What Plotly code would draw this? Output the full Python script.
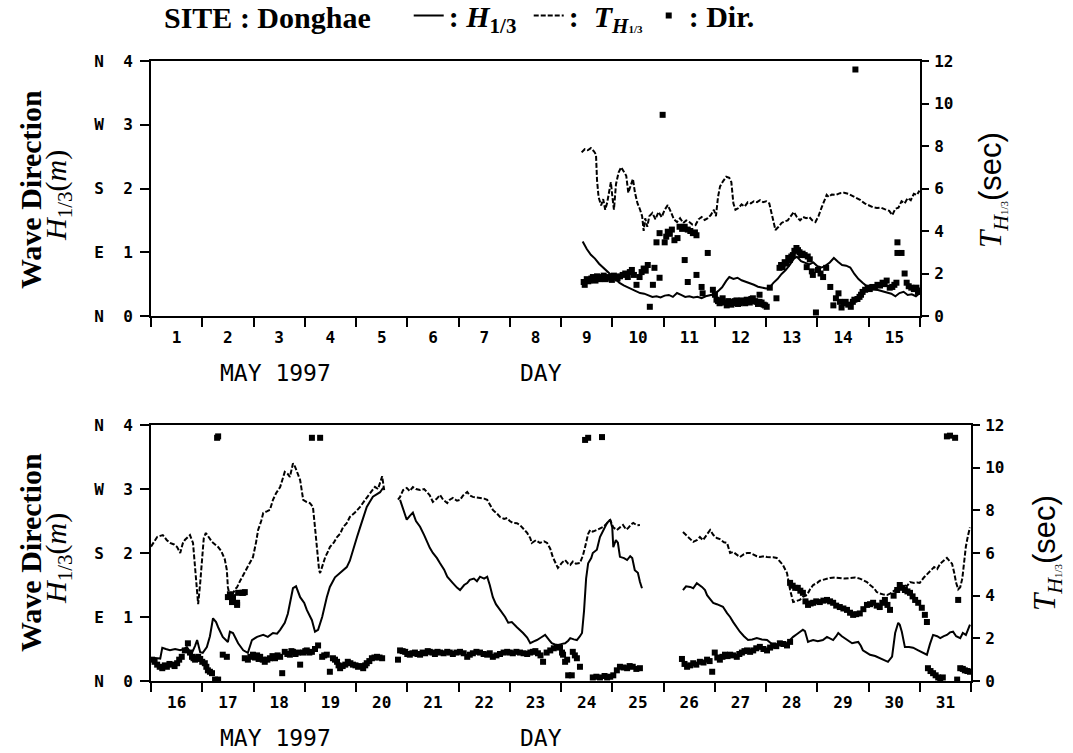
import plotly.graph_objects as go

# Wave record at Donghae, May 1997.
# Time is expressed as day-of-month with fractional part (9.50 = May 9, 12:00).
# H13: significant wave height (m); T13: significant wave period (s); DIR: direction (deg).

# ---------------- May 1-15 (record begins on the 9th) ----------------
TOP_H13 = [
    (9.42, 1.17), (9.50, 1.05), (9.58, 0.96), (9.66, 0.90), (9.74, 0.82), (9.82, 0.76),
    (9.90, 0.70), (9.98, 0.63), (10.06, 0.58), (10.14, 0.52), (10.22, 0.48), (10.30, 0.45),
    (10.38, 0.42), (10.46, 0.38), (10.54, 0.36), (10.62, 0.35), (10.70, 0.33), (10.78, 0.30),
    (10.86, 0.31), (10.94, 0.29), (11.02, 0.32), (11.10, 0.33), (11.18, 0.30), (11.26, 0.36),
    (11.34, 0.33), (11.42, 0.30), (11.50, 0.31), (11.58, 0.29), (11.66, 0.30), (11.74, 0.28),
    (11.82, 0.31), (11.90, 0.32), (11.98, 0.34), (12.06, 0.39), (12.14, 0.45), (12.22, 0.55),
    (12.28, 0.61), (12.36, 0.58), (12.44, 0.60), (12.52, 0.56), (12.60, 0.54), (12.68, 0.51),
    (12.76, 0.49), (12.84, 0.46), (12.92, 0.45), (13.00, 0.43), (13.06, 0.44), (13.14, 0.52),
    (13.22, 0.58), (13.30, 0.66), (13.38, 0.72), (13.46, 0.80), (13.54, 0.90), (13.60, 0.93),
    (13.68, 0.86), (13.76, 0.83), (13.84, 0.81), (13.92, 0.84), (14.00, 0.78), (14.08, 0.76),
    (14.16, 0.79), (14.24, 0.84), (14.32, 0.91), (14.40, 0.85), (14.48, 0.80), (14.56, 0.79),
    (14.64, 0.76), (14.72, 0.66), (14.80, 0.58), (14.88, 0.52), (14.96, 0.47), (15.04, 0.44),
    (15.12, 0.42), (15.20, 0.41), (15.28, 0.38), (15.36, 0.37), (15.44, 0.35), (15.52, 0.31),
    (15.60, 0.36), (15.68, 0.38), (15.76, 0.33), (15.84, 0.34), (15.92, 0.31), (15.98, 0.35),
]

TOP_T13 = [
    (9.40, 7.70), (9.46, 7.85), (9.52, 7.80), (9.58, 7.90), (9.64, 7.75), (9.68, 7.60),
    (9.70, 6.40), (9.73, 5.60), (9.78, 5.20), (9.82, 5.50), (9.86, 5.00), (9.90, 5.35),
    (9.94, 5.90), (9.97, 6.30), (10.00, 5.60), (10.03, 5.00), (10.07, 6.20), (10.12, 6.75),
    (10.17, 7.00), (10.22, 6.80), (10.27, 6.60), (10.31, 5.80), (10.36, 6.20), (10.40, 6.45),
    (10.44, 5.80), (10.49, 5.30), (10.54, 5.00), (10.58, 4.70), (10.61, 4.00), (10.64, 4.60),
    (10.68, 4.20), (10.72, 4.70), (10.78, 4.85), (10.84, 4.55), (10.90, 4.90), (10.96, 4.65),
    (11.02, 5.00), (11.08, 5.22), (11.14, 4.90), (11.20, 4.55), (11.26, 4.42), (11.32, 4.60),
    (11.38, 4.38), (11.44, 4.50), (11.50, 4.42), (11.56, 4.30), (11.62, 4.28), (11.68, 4.55),
    (11.74, 4.66), (11.80, 4.52), (11.86, 4.60), (11.92, 4.75), (11.98, 5.00), (12.02, 4.70),
    (12.06, 5.60), (12.10, 6.10), (12.16, 6.35), (12.22, 6.55), (12.28, 6.50), (12.32, 6.30),
    (12.36, 5.30), (12.40, 5.00), (12.46, 5.08), (12.52, 5.25), (12.58, 5.15), (12.64, 5.35),
    (12.70, 5.30), (12.76, 5.40), (12.82, 5.36), (12.88, 5.45), (12.94, 5.36), (13.00, 5.40),
    (13.06, 5.30), (13.12, 4.60), (13.18, 4.05), (13.24, 4.20), (13.30, 4.38), (13.36, 4.45),
    (13.42, 4.50), (13.48, 4.70), (13.54, 4.90), (13.60, 4.65), (13.66, 4.50), (13.72, 4.66),
    (13.78, 4.60), (13.84, 4.66), (13.90, 4.50), (13.96, 4.42), (14.02, 4.70), (14.08, 5.10),
    (14.14, 5.45), (14.18, 5.70), (14.22, 5.60), (14.28, 5.72), (14.36, 5.70), (14.44, 5.78),
    (14.52, 5.80), (14.60, 5.75), (14.68, 5.65), (14.76, 5.55), (14.84, 5.45), (14.92, 5.30),
    (15.00, 5.20), (15.08, 5.12), (15.16, 5.08), (15.24, 5.10), (15.32, 5.02), (15.40, 4.95),
    (15.46, 4.75), (15.52, 5.05), (15.58, 5.10), (15.64, 5.40), (15.70, 5.30), (15.76, 5.55),
    (15.82, 5.45), (15.88, 5.75), (15.94, 5.70), (15.99, 5.90),
]

TOP_DIR = [
    (9.44, 48), (9.46, 44), (9.50, 52), (9.53, 49), (9.56, 50), (9.59, 53), (9.62, 55),
    (9.65, 51), (9.67, 50), (9.70, 56), (9.73, 54), (9.76, 52), (9.79, 55), (9.83, 57),
    (9.87, 52), (9.91, 55), (9.95, 54), (9.99, 51), (10.03, 57), (10.06, 55), (10.10, 53),
    (10.15, 56), (10.20, 58), (10.25, 60), (10.30, 55), (10.34, 62), (10.38, 65), (10.42, 58),
    (10.47, 44), (10.53, 55), (10.57, 62), (10.61, 67), (10.65, 64), (10.69, 72), (10.73, 13),
    (10.79, 44), (10.82, 68), (10.86, 104), (10.92, 54), (10.92, 117), (10.98, 284),
    (11.02, 104), (11.05, 112), (11.08, 119), (11.12, 116), (11.16, 122), (11.21, 107),
    (11.27, 110), (11.31, 126), (11.36, 123), (11.41, 126), (11.41, 79), (11.47, 122),
    (11.47, 48), (11.52, 120), (11.57, 117), (11.61, 118), (11.64, 114), (11.64, 58),
    (11.74, 41), (11.76, 32), (11.86, 89), (11.96, 37), (12.00, 30), (12.03, 23), (12.06, 21),
    (12.09, 18), (12.12, 22), (12.15, 25), (12.19, 19), (12.23, 15), (12.26, 21), (12.29, 20),
    (12.32, 16), (12.35, 18), (12.39, 21), (12.42, 22), (12.45, 17), (12.48, 18), (12.52, 22),
    (12.56, 20), (12.59, 18), (12.62, 23), (12.65, 21), (12.68, 19), (12.71, 24), (12.74, 25),
    (12.78, 21), (12.81, 20), (12.84, 17), (12.87, 20), (12.87, 30), (12.91, 19), (12.95, 16),
    (12.98, 15), (13.01, 13), (13.07, 40), (13.20, 25), (13.26, 68), (13.29, 72), (13.32, 69),
    (13.36, 76), (13.40, 74), (13.43, 82), (13.46, 79), (13.49, 84), (13.52, 86), (13.55, 92),
    (13.59, 96), (13.62, 93), (13.65, 90), (13.68, 86), (13.71, 88), (13.75, 86), (13.79, 69),
    (13.81, 84), (13.85, 80), (13.89, 63), (13.91, 58), (13.97, 5), (14.01, 65), (14.06, 60),
    (14.11, 55), (14.17, 68), (14.25, 41), (14.31, 15), (14.36, 25), (14.41, 32), (14.44, 20),
    (14.47, 12), (14.51, 18), (14.55, 20), (14.60, 16), (14.65, 13), (14.69, 20), (14.72, 23),
    (14.74, 348), (14.78, 24), (14.82, 27), (14.85, 30), (14.88, 34), (14.93, 37), (14.98, 40),
    (15.02, 38), (15.07, 41), (15.12, 40), (15.17, 44), (15.22, 43), (15.27, 47), (15.31, 45),
    (15.35, 50), (15.41, 40), (15.46, 41), (15.50, 44), (15.54, 47), (15.56, 104), (15.56, 89),
    (15.64, 89), (15.70, 60), (15.74, 47), (15.78, 42), (15.83, 40), (15.88, 38), (15.93, 40),
    (15.96, 34), (15.99, 36),
]

# ---------------- May 16-31 ----------------
BOT_H13 = [
    (16.00, 0.33), (16.08, 0.36), (16.18, 0.35), (16.22, 0.52), (16.29, 0.50), (16.37, 0.48),
    (16.47, 0.50), (16.57, 0.48), (16.64, 0.50), (16.70, 0.53), (16.76, 0.46), (16.80, 0.44),
    (16.86, 0.55), (16.90, 0.64), (16.96, 0.45), (17.01, 0.44), (17.09, 0.53), (17.15, 0.70),
    (17.21, 0.98), (17.27, 0.92), (17.31, 0.84), (17.40, 0.69), (17.50, 0.61), (17.54, 0.77),
    (17.60, 0.75), (17.66, 0.66), (17.70, 0.59), (17.80, 0.48), (17.89, 0.44), (17.97, 0.64),
    (18.07, 0.69), (18.19, 0.72), (18.28, 0.69), (18.38, 0.75), (18.46, 0.74), (18.52, 0.80),
    (18.61, 0.91), (18.67, 1.05), (18.71, 1.22), (18.77, 1.45), (18.83, 1.48), (18.91, 1.31),
    (18.99, 1.22), (19.04, 1.11), (19.14, 0.95), (19.20, 0.77), (19.26, 0.80), (19.34, 1.00),
    (19.43, 1.31), (19.49, 1.47), (19.59, 1.62), (19.69, 1.69), (19.77, 1.75), (19.82, 1.78),
    (19.88, 1.88), (19.94, 2.05), (20.02, 2.25), (20.08, 2.40), (20.14, 2.56), (20.21, 2.72),
    (20.27, 2.80), (20.33, 2.88), (20.41, 2.92), (20.47, 2.95), (20.53, 3.02),
    (20.86, 2.83), (20.94, 2.62), (20.99, 2.52), (21.05, 2.58), (21.11, 2.63), (21.17, 2.50),
    (21.25, 2.41), (21.33, 2.28), (21.39, 2.16), (21.44, 2.08), (21.50, 2.00), (21.58, 1.92),
    (21.64, 1.84), (21.72, 1.74), (21.78, 1.63), (21.83, 1.58), (21.89, 1.53), (21.97, 1.46),
    (22.03, 1.42), (22.11, 1.50), (22.17, 1.53), (22.22, 1.58), (22.30, 1.60), (22.36, 1.56),
    (22.42, 1.63), (22.50, 1.60), (22.56, 1.63), (22.61, 1.50), (22.67, 1.31), (22.73, 1.20),
    (22.81, 1.11), (22.91, 1.00), (22.97, 0.91), (23.04, 0.92), (23.14, 0.84), (23.20, 0.80),
    (23.26, 0.75), (23.34, 0.68), (23.40, 0.59), (23.47, 0.62), (23.53, 0.64), (23.61, 0.68),
    (23.69, 0.72), (23.77, 0.64), (23.82, 0.59), (23.88, 0.57), (23.94, 0.56), (24.02, 0.58),
    (24.08, 0.59), (24.14, 0.63), (24.18, 0.67), (24.25, 0.65), (24.31, 0.64), (24.37, 0.70),
    (24.41, 0.75), (24.45, 1.10), (24.49, 1.60), (24.53, 1.84), (24.59, 1.92), (24.62, 2.00),
    (24.70, 2.05), (24.76, 2.25), (24.84, 2.38), (24.90, 2.47), (24.96, 2.52), (25.00, 2.40),
    (25.02, 2.09), (25.07, 2.20), (25.11, 2.16), (25.15, 1.94), (25.23, 1.92), (25.29, 1.89),
    (25.35, 1.95), (25.39, 1.92), (25.44, 1.73), (25.50, 1.69), (25.54, 1.55), (25.58, 1.45),
    (26.38, 1.42), (26.44, 1.48), (26.52, 1.47), (26.58, 1.45), (26.65, 1.53), (26.71, 1.50),
    (26.75, 1.47), (26.81, 1.42), (26.85, 1.34), (26.91, 1.28), (26.97, 1.22), (27.04, 1.20),
    (27.10, 1.18), (27.16, 1.16), (27.24, 1.06), (27.30, 1.00), (27.36, 0.92), (27.43, 0.84),
    (27.49, 0.77), (27.57, 0.70), (27.65, 0.64), (27.73, 0.65), (27.82, 0.67), (27.92, 0.65),
    (28.02, 0.64), (28.08, 0.60), (28.14, 0.56), (28.21, 0.57), (28.27, 0.56), (28.35, 0.58),
    (28.41, 0.59), (28.47, 0.64), (28.53, 0.69), (28.60, 0.73), (28.66, 0.77), (28.72, 0.80),
    (28.76, 0.78), (28.82, 0.61), (28.88, 0.63), (28.92, 0.64), (29.01, 0.62), (29.11, 0.64),
    (29.19, 0.69), (29.25, 0.66), (29.31, 0.64), (29.37, 0.70), (29.41, 0.75), (29.48, 0.70),
    (29.54, 0.67), (29.62, 0.63), (29.68, 0.59), (29.74, 0.60), (29.80, 0.61), (29.85, 0.55),
    (29.89, 0.48), (29.97, 0.44), (30.03, 0.41), (30.13, 0.39), (30.22, 0.36), (30.30, 0.33),
    (30.38, 0.30), (30.46, 0.38), (30.52, 0.75), (30.58, 0.91), (30.61, 0.88), (30.65, 0.77),
    (30.71, 0.53), (30.79, 0.53), (30.87, 0.52), (30.97, 0.48), (31.04, 0.45), (31.10, 0.43),
    (31.14, 0.41), (31.20, 0.58), (31.26, 0.72), (31.34, 0.70), (31.40, 0.67), (31.47, 0.70),
    (31.53, 0.72), (31.59, 0.76), (31.65, 0.77), (31.71, 0.70), (31.79, 0.67), (31.84, 0.75),
    (31.90, 0.72), (31.94, 0.80), (31.98, 0.88),
]

BOT_T13 = [
    (16.00, 6.30), (16.04, 6.47), (16.12, 6.75), (16.18, 6.80), (16.23, 6.84), (16.31, 6.60),
    (16.37, 6.47), (16.45, 6.40), (16.51, 6.28), (16.57, 6.00), (16.62, 6.45), (16.66, 6.61),
    (16.72, 6.75), (16.76, 6.84), (16.82, 6.47), (16.86, 5.40), (16.90, 3.94), (16.92, 3.60),
    (16.96, 4.60), (17.00, 5.81), (17.03, 6.70), (17.07, 6.94), (17.13, 6.70), (17.19, 6.52),
    (17.25, 6.40), (17.31, 6.28), (17.37, 6.10), (17.40, 5.91), (17.44, 5.70), (17.48, 5.20),
    (17.50, 4.40), (17.54, 3.94), (17.60, 4.10), (17.64, 4.30), (17.68, 4.40), (17.74, 4.70),
    (17.78, 4.88), (17.83, 5.10), (17.87, 5.34), (17.93, 5.55), (17.99, 5.81), (18.05, 6.50),
    (18.09, 7.08), (18.15, 7.50), (18.19, 7.88), (18.26, 7.95), (18.32, 8.02), (18.38, 8.49),
    (18.44, 8.80), (18.52, 9.09), (18.58, 9.50), (18.61, 9.80), (18.67, 9.70), (18.71, 9.56),
    (18.77, 10.20), (18.81, 10.05), (18.85, 9.80), (18.91, 9.42), (18.97, 8.49), (19.03, 8.40),
    (19.10, 8.34), (19.16, 8.16), (19.20, 7.20), (19.24, 6.00), (19.28, 5.20), (19.30, 5.06),
    (19.36, 5.50), (19.40, 5.81), (19.46, 6.10), (19.49, 6.28), (19.57, 6.50), (19.63, 6.75),
    (19.69, 6.90), (19.75, 7.22), (19.82, 7.40), (19.88, 7.69), (19.98, 7.90), (20.08, 8.16),
    (20.18, 8.50), (20.27, 8.81), (20.37, 9.10), (20.43, 9.00), (20.47, 9.33), (20.51, 9.60),
    (20.55, 8.95),
    (20.82, 8.50), (20.86, 8.63), (20.92, 8.95), (20.99, 9.05), (21.05, 8.90), (21.11, 9.09),
    (21.17, 9.00), (21.25, 8.95), (21.33, 9.00), (21.39, 8.86), (21.44, 8.70), (21.50, 8.39),
    (21.58, 8.55), (21.64, 8.72), (21.70, 8.50), (21.78, 8.34), (21.83, 8.50), (21.89, 8.58),
    (21.97, 8.45), (22.03, 8.49), (22.09, 8.70), (22.17, 8.86), (22.22, 8.70), (22.28, 8.63),
    (22.36, 8.60), (22.42, 8.58), (22.50, 8.55), (22.56, 8.49), (22.61, 8.30), (22.67, 8.02),
    (22.75, 7.85), (22.81, 7.69), (22.89, 7.60), (22.95, 7.64), (23.00, 7.50), (23.06, 7.41),
    (23.14, 7.40), (23.20, 7.31), (23.28, 7.10), (23.34, 6.94), (23.40, 6.70), (23.43, 6.47),
    (23.51, 6.60), (23.59, 6.47), (23.67, 6.55), (23.73, 6.47), (23.79, 6.20), (23.84, 5.81),
    (23.90, 5.50), (23.94, 5.30), (24.02, 5.55), (24.08, 5.67), (24.14, 5.50), (24.18, 5.44),
    (24.23, 5.60), (24.29, 5.50), (24.37, 5.53), (24.43, 5.90), (24.47, 6.28), (24.53, 6.90),
    (24.57, 7.08), (24.62, 7.00), (24.70, 7.08), (24.76, 7.15), (24.82, 7.22), (24.90, 7.40),
    (24.96, 7.55), (25.02, 7.20), (25.09, 7.08), (25.15, 7.20), (25.21, 7.31), (25.27, 7.10),
    (25.31, 7.17), (25.37, 7.35), (25.41, 7.41), (25.48, 7.30), (25.54, 7.31),
    (26.38, 6.98), (26.46, 6.80), (26.52, 6.70), (26.58, 6.52), (26.65, 6.60), (26.71, 6.75),
    (26.77, 6.60), (26.85, 6.90), (26.91, 7.08), (26.97, 6.85), (27.04, 6.70), (27.10, 6.65),
    (27.18, 6.50), (27.24, 6.47), (27.30, 6.00), (27.36, 6.05), (27.43, 5.90), (27.49, 5.81),
    (27.57, 5.95), (27.63, 6.00), (27.69, 6.00), (27.77, 5.90), (27.82, 5.85), (27.88, 5.81),
    (27.96, 5.85), (28.02, 5.81), (28.08, 5.81), (28.14, 5.80), (28.21, 5.77), (28.27, 5.60),
    (28.33, 5.44), (28.41, 5.06), (28.47, 4.27), (28.53, 3.70), (28.59, 3.75), (28.66, 3.80),
    (28.72, 3.95), (28.80, 4.03), (28.86, 4.30), (28.92, 4.50), (29.00, 4.60), (29.05, 4.70),
    (29.11, 4.74), (29.19, 4.80), (29.25, 4.83), (29.35, 4.85), (29.44, 4.83), (29.54, 4.80),
    (29.64, 4.83), (29.74, 4.85), (29.83, 4.80), (29.91, 4.70), (29.97, 4.64), (30.03, 4.50),
    (30.11, 4.35), (30.16, 4.17), (30.22, 4.10), (30.30, 4.05), (30.36, 4.03), (30.42, 4.10),
    (30.48, 4.20), (30.56, 4.30), (30.61, 4.41), (30.69, 4.50), (30.75, 4.45), (30.81, 4.64),
    (30.89, 4.60), (30.95, 4.62), (31.00, 4.60), (31.08, 4.85), (31.16, 5.06), (31.22, 5.20),
    (31.28, 5.34), (31.34, 5.25), (31.40, 5.50), (31.47, 5.65), (31.53, 5.77), (31.59, 5.60),
    (31.63, 5.50), (31.67, 5.10), (31.71, 4.60), (31.75, 4.30), (31.79, 4.40), (31.83, 4.80),
    (31.87, 5.60), (31.90, 6.30), (31.94, 6.80), (31.98, 7.20),
]

BOT_DIR = [
    (16.02, 30), (16.07, 27), (16.12, 23), (16.17, 20), (16.22, 18), (16.27, 22), (16.31, 20),
    (16.36, 24), (16.41, 23), (16.46, 21), (16.51, 25), (16.55, 30), (16.60, 34), (16.66, 43),
    (16.72, 53), (16.76, 40), (16.80, 34), (16.83, 32), (16.86, 30), (16.92, 34), (16.96, 31),
    (17.00, 27), (17.05, 25), (17.08, 20), (17.11, 15), (17.15, 13), (17.19, 11), (17.25, 2),
    (17.31, 2), (17.29, 342), (17.31, 344), (17.40, 37), (17.48, 34), (17.50, 118), (17.54, 122),
    (17.58, 111), (17.60, 118), (17.68, 107), (17.68, 110), (17.70, 124), (17.78, 124),
    (17.80, 124), (17.83, 125), (17.83, 32), (17.89, 30), (17.94, 34), (17.99, 37), (18.03, 33),
    (18.07, 36), (18.10, 31), (18.13, 34), (18.18, 30), (18.22, 27), (18.27, 30), (18.32, 32),
    (18.37, 35), (18.42, 32), (18.47, 36), (18.52, 34), (18.56, 11), (18.61, 41), (18.66, 38),
    (18.71, 37), (18.74, 42), (18.77, 41), (18.82, 38), (18.87, 40), (18.91, 23), (18.97, 40),
    (19.01, 42), (19.04, 43), (19.09, 40), (19.14, 41), (19.14, 342), (19.20, 45), (19.26, 50),
    (19.30, 342), (19.34, 34), (19.38, 36), (19.43, 37), (19.49, 13), (19.55, 32), (19.59, 30),
    (19.63, 27), (19.66, 22), (19.69, 18), (19.74, 21), (19.79, 23), (19.84, 27), (19.89, 25),
    (19.94, 23), (19.99, 22), (20.04, 20), (20.09, 21), (20.14, 18), (20.18, 22), (20.21, 25),
    (20.26, 28), (20.31, 32), (20.36, 33), (20.41, 34), (20.46, 33), (20.51, 32),
    (20.82, 30), (20.86, 43), (20.91, 42), (20.96, 41), (21.00, 38), (21.05, 37), (21.10, 39),
    (21.15, 40), (21.20, 38), (21.25, 37), (21.30, 40), (21.35, 39), (21.40, 42), (21.44, 41),
    (21.49, 40), (21.54, 38), (21.59, 41), (21.64, 40), (21.71, 39), (21.78, 41), (21.83, 40),
    (21.89, 38), (21.96, 40), (22.03, 41), (22.10, 39), (22.17, 34), (22.22, 37), (22.28, 39),
    (22.35, 41), (22.42, 40), (22.49, 38), (22.56, 37), (22.61, 39), (22.67, 34), (22.74, 36),
    (22.81, 38), (22.88, 40), (22.95, 41), (23.00, 40), (23.06, 39), (23.13, 41), (23.20, 40),
    (23.27, 39), (23.34, 38), (23.40, 40), (23.45, 41), (23.50, 42), (23.55, 39), (23.60, 36),
    (23.65, 27), (23.72, 40), (23.79, 43), (23.86, 46), (23.92, 48), (23.98, 47), (24.02, 40),
    (24.04, 37), (24.08, 27), (24.12, 30), (24.14, 8), (24.21, 8), (24.23, 41), (24.27, 36),
    (24.31, 32), (24.37, 20), (24.47, 339), (24.53, 342), (24.62, 5), (24.69, 6), (24.76, 5),
    (24.80, 343), (24.85, 7), (24.90, 5), (24.96, 6), (25.02, 8), (25.09, 15), (25.15, 20),
    (25.22, 19), (25.29, 18), (25.34, 21), (25.40, 20), (25.47, 17), (25.54, 18),
    (26.36, 31), (26.41, 24), (26.46, 20), (26.52, 22), (26.58, 25), (26.64, 23), (26.71, 27),
    (26.78, 26), (26.85, 30), (26.90, 28), (26.95, 13), (27.00, 40), (27.05, 33), (27.10, 30),
    (27.15, 34), (27.20, 37), (27.25, 35), (27.30, 37), (27.36, 36), (27.43, 34), (27.48, 38),
    (27.53, 40), (27.58, 42), (27.63, 43), (27.69, 41), (27.75, 43), (27.81, 46), (27.88, 48),
    (27.95, 45), (28.02, 43), (28.08, 47), (28.14, 50), (28.20, 49), (28.27, 53), (28.34, 52),
    (28.41, 50), (28.47, 55), (28.47, 138), (28.52, 134), (28.57, 131), (28.62, 131),
    (28.67, 127), (28.72, 124), (28.77, 112), (28.82, 107), (28.87, 109), (28.92, 110),
    (28.98, 112), (29.05, 111), (29.12, 113), (29.19, 114), (29.25, 112), (29.31, 110),
    (29.37, 106), (29.44, 104), (29.51, 102), (29.58, 100), (29.64, 96), (29.70, 93),
    (29.76, 94), (29.83, 95), (29.90, 101), (29.97, 107), (30.03, 108), (30.09, 110),
    (30.16, 106), (30.22, 104), (30.27, 110), (30.32, 114), (30.37, 107), (30.42, 100),
    (30.49, 120), (30.56, 128), (30.61, 135), (30.66, 131), (30.71, 128), (30.76, 126),
    (30.81, 124), (30.86, 119), (30.91, 114), (30.97, 110), (31.04, 103), (31.10, 93),
    (31.14, 83), (31.16, 18), (31.21, 14), (31.26, 11), (31.31, 8), (31.36, 5), (31.40, 4),
    (31.45, 5), (31.53, 344), (31.59, 345), (31.69, 342), (31.73, 2), (31.75, 114), (31.79, 18),
    (31.84, 17), (31.88, 15), (31.93, 14), (31.98, 13),
]

DIR_LETTERS = ["N", "E", "S", "W", "N"]
H_TICKS = [0, 1, 2, 3, 4]
T_TICKS = [0, 2, 4, 6, 8, 10, 12]
TOP_DAYS = list(range(1, 16))
BOT_DAYS = list(range(16, 32))

MONO = "DejaVu Sans Mono"
SERIF = "Liberation Serif"
W, H = 1073, 753


def unzip(pairs, max_step=None):
    """Split (day, value) pairs into x/y lists, breaking the line across data gaps."""
    xs, ys = [], []
    prev = None
    for d, v in pairs:
        if max_step is not None and prev is not None and d - prev > max_step:
            xs.append(None)
            ys.append(None)
        xs.append(d)
        ys.append(v)
        prev = d
    return xs, ys


fig = go.Figure()


def add_panel(h_pairs, t_pairs, dir_pairs, xa, ya_h, ya_t, ya_d, legend):
    x, y = unzip(h_pairs, 0.2)
    fig.add_trace(go.Scatter(
        x=x, y=y, xaxis=xa, yaxis=ya_h, mode="lines", connectgaps=False,
        line=dict(color="black", width=2), showlegend=legend,
        name=": <i>H</i><sub>1/3</sub>", legendrank=1))
    x, y = unzip(t_pairs, 0.2)
    fig.add_trace(go.Scatter(
        x=x, y=y, xaxis=xa, yaxis=ya_t, mode="lines", connectgaps=False,
        line=dict(color="black", width=2, dash="5px,2px"), showlegend=legend,
        name=":  <i>T</i><sub><i>H</i><span style='font-size:11px'>1/3</span></sub>",
        legendrank=2))
    x, y = unzip(dir_pairs)
    fig.add_trace(go.Scatter(
        x=x, y=y, xaxis=xa, yaxis=ya_d, mode="markers",
        marker=dict(symbol="square", size=6, color="black"), showlegend=legend,
        name=": Dir.", legendrank=3))


add_panel(TOP_H13, TOP_T13, TOP_DIR, "x", "y", "y2", "y3", True)
add_panel(BOT_H13, BOT_T13, BOT_DIR, "x2", "y4", "y5", "y6", False)

tick_font = dict(family=MONO, size=16, color="black", weight="bold")


def xaxis_cfg(domain, days, anchor):
    return dict(
        domain=domain, anchor=anchor, range=[days[0], days[-1] + 1],
        tickmode="array", tickvals=[d + 0.5 for d in days], ticktext=[str(d) for d in days],
        ticks="", ticklabelstandoff=6, tickfont=tick_font,
        minor=dict(tickmode="array", tickvals=days + [days[-1] + 1], ticks="outside",
                   ticklen=9, tickwidth=2, tickcolor="black"),
        showline=True, linecolor="black", linewidth=2, mirror=True,
        showgrid=False, zeroline=False, fixedrange=True)


def yleft_cfg(domain, anchor):
    return dict(
        domain=domain, anchor=anchor, range=[0, 4],
        tickmode="array", tickvals=H_TICKS,
        ticktext=[f"{l}  {v}" for l, v in zip(DIR_LETTERS, H_TICKS)],
        ticks="outside", ticklen=9, tickwidth=2, tickcolor="black",
        ticklabelstandoff=4, tickfont=tick_font,
        showline=True, linecolor="black", linewidth=2,
        showgrid=False, zeroline=False, fixedrange=True)


def yright_cfg(over, anchor):
    return dict(
        overlaying=over, anchor=anchor, side="right", range=[0, 12],
        tickmode="array", tickvals=T_TICKS, ticks="outside", ticklen=7, tickwidth=2,
        tickcolor="black", ticklabelstandoff=2, tickfont=tick_font,
        showline=True, linecolor="black", linewidth=2,
        showgrid=False, zeroline=False, fixedrange=True)


def ydir_cfg(over):
    return dict(overlaying=over, range=[0, 360], visible=False, fixedrange=True)


top_x = [151 / W, 920 / W]
bot_x = [151 / W, 971 / W]
top_y = [1 - 316 / H, 1 - 61 / H]
bot_y = [1 - 681 / H, 1 - 425 / H]

fig.update_layout(
    width=W, height=H, margin=dict(l=0, r=0, t=0, b=0, autoexpand=False),
    paper_bgcolor="white", plot_bgcolor="white",
    xaxis=xaxis_cfg(top_x, TOP_DAYS, "y"),
    xaxis2=xaxis_cfg(bot_x, BOT_DAYS, "y4"),
    yaxis=yleft_cfg(top_y, "x"),
    yaxis2=yright_cfg("y", "x"),
    yaxis3=ydir_cfg("y"),
    yaxis4=yleft_cfg(bot_y, "x2"),
    yaxis5=yright_cfg("y4", "x2"),
    yaxis6=ydir_cfg("y4"),
    legend=dict(
        orientation="h", x=162 / W, y=1.014, xanchor="left", yanchor="top",
        font=dict(family=SERIF, size=30, color="black", weight="bold"),
        title=dict(text="SITE : Donghae&nbsp;&nbsp;&nbsp;&nbsp;", side="left",
                   font=dict(family=SERIF, size=30, color="black", weight="bold")),
        bgcolor="rgba(0,0,0,0)", itemwidth=30, entrywidth=75, entrywidthmode="pixels",
        traceorder="normal"),
)

left_title = "Wave Direction"
h_title = "<i>H</i><sub>1/3</sub>(<i>m</i>)"
t_title = ("<i>T</i><sub><i>H</i><span style='font-size:11px'>1/3</span></sub>"
           "<span style='font-family:Liberation Sans;font-weight:normal'>(sec)</span>")

for cy, rx in ((190, 993), (553, 1047)):
    yp = 1 - cy / H
    fig.add_annotation(text=left_title, x=30 / W, y=yp, xref="paper", yref="paper",
                       textangle=-90, showarrow=False, xanchor="center", yanchor="middle",
                       font=dict(family=SERIF, size=30, color="black", weight="bold"))
    fig.add_annotation(text=h_title, x=58 / W, y=1 - (cy + 6) / H, xref="paper", yref="paper",
                       textangle=-90, showarrow=False, xanchor="center", yanchor="middle",
                       font=dict(family=SERIF, size=30, color="black"))
    fig.add_annotation(text=t_title, x=rx / W, y=yp, xref="paper", yref="paper",
                       textangle=-90, showarrow=False, xanchor="center", yanchor="middle",
                       font=dict(family=SERIF, size=31, color="black"))

for ay in (373, 738):
    fig.add_annotation(text="MAY 1997", x=275 / W, y=1 - ay / H, xref="paper", yref="paper",
                       showarrow=False, xanchor="center", yanchor="middle",
                       font=dict(family=MONO, size=23, color="black"))
    fig.add_annotation(text="DAY", x=541 / W, y=1 - ay / H, xref="paper", yref="paper",
                       showarrow=False, xanchor="center", yanchor="middle",
                       font=dict(family=MONO, size=23, color="black"))

fig.write_html("out.html")
